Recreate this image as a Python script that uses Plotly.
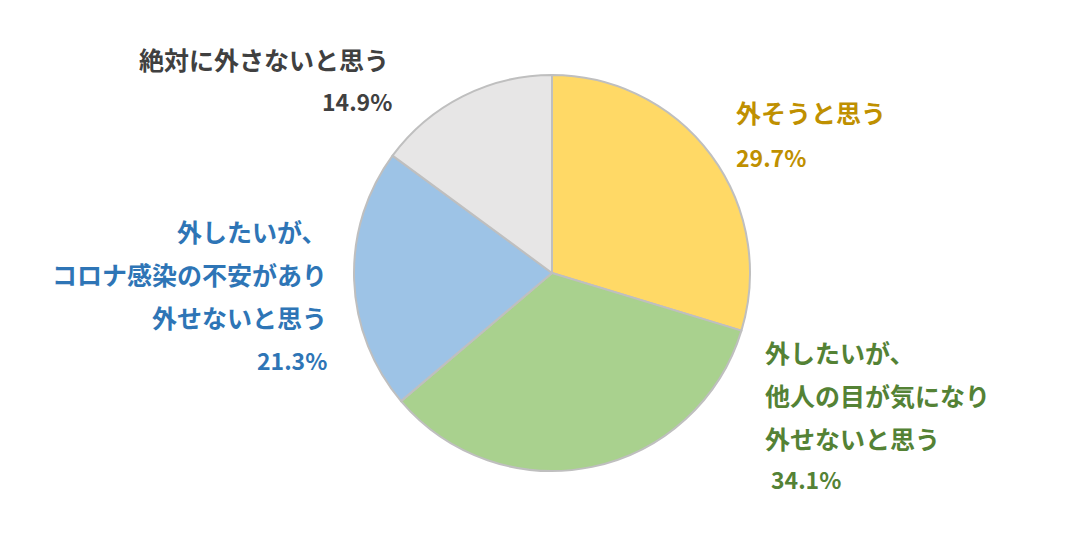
import plotly.graph_objects as go

categories = ["外そうと思う", "外したいが、他人の目が気になり外せないと思う",
              "外したいが、コロナ感染の不安があり外せないと思う", "絶対に外さないと思う"]
values = [29.7, 34.1, 21.3, 14.9]
label_lines = [
    ["外そうと思う"],
    ["外したいが、", "他人の目が気になり", "外せないと思う"],
    ["外したいが、", "コロナ感染の不安があり", "外せないと思う"],
    ["絶対に外さないと思う"],
]
slice_colors = ["#FFD966", "#A9D18E", "#9DC3E6", "#E7E6E6"]
text_colors = ["#BF9000", "#548235", "#2E75B6", "#404040"]

W, H = 1080, 541
DX, DY = -7, -8  # page offset correction
cx, cy, r = 551 + DX, 273 + DY, 198

fig = go.Figure(go.Pie(
    labels=categories, values=values, sort=False, direction="clockwise",
    rotation=0, textinfo="none", hoverinfo="skip", showlegend=False,
    marker=dict(colors=slice_colors, line=dict(color="#BFBFBF", width=2)),
    domain=dict(x=[(cx - r) / W, (cx + r) / W], y=[(H - cy - r) / H, (H - cy + r) / H]),
))

# label block placement: (x pixel, first line y pixel, line step, anchor)
placements = [
    (733, 112, 45, "left"),
    (762, 352, 43, "left"),
    (328, 231, 43, "right"),
    (390, 59, 42, "right"),
]
font_family = "Noto Sans CJK JP"
annotations = []
for i, (x, y0, step, anchor) in enumerate(placements):
    lines = label_lines[i] + [f"{values[i]:.1f}%"]
    for j, line in enumerate(lines):
        xx = x + DX
        is_pct = j == len(lines) - 1
        yy = y0 + DY + j * step
        if i == 1 and is_pct:
            xx += 6
            yy -= 2
        if i == 3 and is_pct:
            xx += 3
        annotations.append(dict(
            x=xx / W, y=(H - yy) / H, xref="paper", yref="paper",
            text=f"<b>{line}</b>", showarrow=False, xanchor=anchor, yanchor="middle",
            font=dict(family=font_family, size=23 if is_pct else 25, color=text_colors[i]),
        ))

fig.update_layout(
    width=W, height=H, margin=dict(l=0, r=0, t=0, b=0),
    paper_bgcolor="white", plot_bgcolor="white",
    annotations=annotations,
)
fig.write_html("out.html")
